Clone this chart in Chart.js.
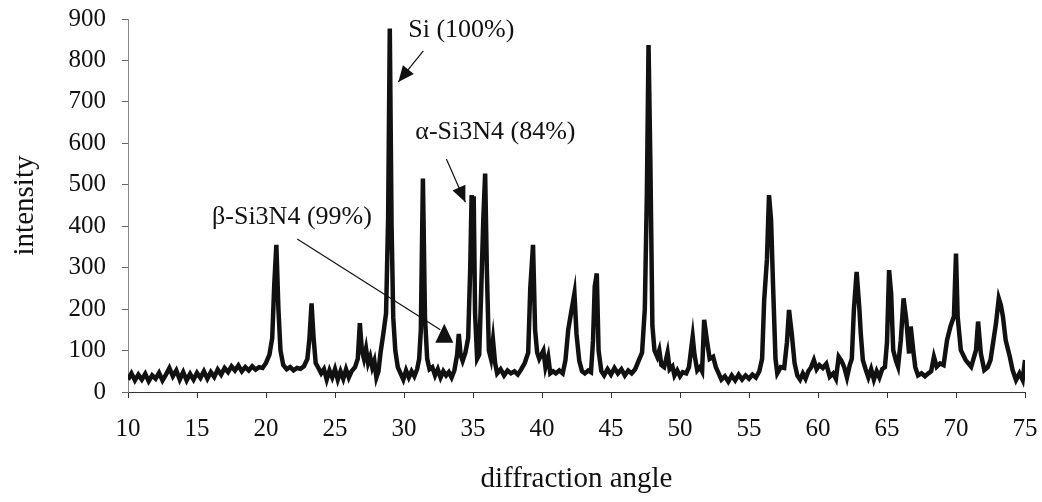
<!DOCTYPE html>
<html>
<head>
<meta charset="utf-8">
<title>XRD pattern</title>
<script src="https://cdn.jsdelivr.net/npm/chart.js@4.4.1/dist/chart.umd.min.js"></script>
<style>
  html, body { margin: 0; padding: 0; background: #fff; }
  #wrap { width: 1042px; height: 502px; }
</style>
</head>
<body>
<div id="wrap"><canvas id="xrdChart" width="1042" height="502"></canvas></div>
<script>
// diffraction angle (2-theta)
const angles = [
  10.0, 10.25, 10.5, 10.75, 11.0, 11.25, 11.5, 11.75, 12.0, 12.25, 12.5, 12.75,
  13.0, 13.25, 13.5, 13.75, 14.0, 14.25, 14.5, 14.75, 15.0, 15.25, 15.5, 15.75,
  16.0, 16.25, 16.5, 16.75, 17.0, 17.25, 17.5, 17.75, 18.0, 18.25, 18.5, 18.75,
  19.0, 19.25, 19.5, 19.75, 20.0, 20.25, 20.45, 20.6, 20.75, 20.9, 21.05, 21.25,
  21.5, 21.75, 22.0, 22.25, 22.5, 22.75, 23.0, 23.15, 23.3, 23.45, 23.6, 23.8,
  24.0, 24.2, 24.4, 24.6, 24.8, 25.0, 25.2, 25.4, 25.6, 25.8, 26.0, 26.2,
  26.45, 26.65, 26.8, 26.95, 27.1, 27.25, 27.4, 27.55, 27.7, 27.85, 28.0, 28.15,
  28.3, 28.5, 28.7, 28.85, 28.97, 29.1, 29.22, 29.37, 29.55, 29.75, 29.95, 30.15,
  30.35, 30.55, 30.75, 30.95, 31.1, 31.22, 31.37, 31.52, 31.68, 31.85, 32.05, 32.25,
  32.45, 32.65, 32.85, 33.05, 33.25, 33.45, 33.65, 33.85, 33.97, 34.1, 34.25, 34.45,
  34.65, 34.8, 34.9, 34.97, 35.05, 35.15, 35.3, 35.45, 35.6, 35.75, 35.88, 36.0,
  36.15, 36.3, 36.45, 36.6, 36.75, 37.0, 37.25, 37.5, 37.75, 38.0, 38.25, 38.5,
  38.75, 39.0, 39.15, 39.35, 39.5, 39.65, 39.8, 39.95, 40.1, 40.25, 40.45, 40.6,
  40.8, 41.0, 41.25, 41.5, 41.7, 41.9, 42.1, 42.35, 42.5, 42.7, 42.9, 43.1,
  43.35, 43.55, 43.7, 43.82, 43.97, 44.1, 44.3, 44.5, 44.75, 45.0, 45.25, 45.5,
  45.75, 46.0, 46.25, 46.5, 46.75, 47.0, 47.25, 47.45, 47.6, 47.72, 47.85, 48.0,
  48.15, 48.35, 48.5, 48.65, 48.85, 48.98, 49.1, 49.25, 49.45, 49.6, 49.8, 50.0,
  50.2, 50.45, 50.65, 50.8, 50.92, 51.05, 51.25, 51.45, 51.6, 51.75, 51.95, 52.15,
  52.4, 52.6, 52.8, 53.0, 53.25, 53.5, 53.75, 54.0, 54.25, 54.5, 54.75, 55.0,
  55.25, 55.5, 55.75, 55.95, 56.1, 56.3, 56.45, 56.6, 56.75, 56.92, 57.05, 57.3,
  57.55, 57.75, 57.9, 58.1, 58.3, 58.5, 58.7, 58.9, 59.1, 59.3, 59.5, 59.7,
  59.9, 60.1, 60.35, 60.6, 60.85, 61.1, 61.3, 61.5, 61.7, 61.9, 62.1, 62.3,
  62.45, 62.6, 62.8, 63.0, 63.1, 63.25, 63.45, 63.65, 63.85, 64.05, 64.25, 64.45,
  64.65, 64.85, 65.0, 65.15, 65.3, 65.45, 65.65, 65.8, 66.0, 66.2, 66.4, 66.6,
  66.72, 66.9, 67.05, 67.25, 67.5, 67.75, 68.0, 68.2, 68.4, 68.6, 68.85, 69.1,
  69.35, 69.6, 69.85, 70.0, 70.12, 70.35, 70.7, 71.1, 71.45, 71.6, 71.8, 72.05,
  72.3, 72.5, 72.9, 73.1, 73.25, 73.4, 73.6, 73.9, 74.1, 74.35, 74.6, 74.83,
  75.0
];

// counts at each angle
const intensity = [
  30, 45, 28, 42, 30, 44, 26, 40, 32, 46, 28, 42,
  58, 38, 52, 30, 48, 28, 44, 30, 46, 34, 50, 32,
  48, 36, 54, 42, 58, 48, 62, 52, 64, 50, 60, 52,
  62, 54, 60, 58, 70, 90, 130, 260, 355, 200, 100, 65,
  55, 60, 52, 58, 56, 62, 80, 130, 214, 130, 70, 58,
  45, 55, 30, 52, 35, 55, 30, 50, 32, 55, 35, 50,
  60, 80, 166, 100, 80, 105, 70, 85, 60, 75, 35, 50,
  95, 140, 190, 420, 877, 400, 180, 100, 60, 45, 30, 52,
  35, 50, 38, 55, 80, 150, 515, 180, 80, 55, 60, 40,
  55, 35, 50, 40, 48, 35, 52, 90, 140, 90, 75, 95,
  130, 300, 475, 420, 472, 190, 80, 90, 250, 420, 527, 300,
  100, 80, 125, 70, 45, 55, 40, 52, 45, 50, 42, 55,
  70, 95, 250, 355, 150, 95, 80, 90, 100, 60, 85, 45,
  50, 45, 52, 45, 77, 150, 190, 238, 140, 75, 50, 45,
  52, 48, 125, 254, 286, 100, 50, 40, 55, 42, 58, 45,
  55, 40, 52, 45, 55, 75, 95, 200, 480, 837, 560, 160,
  100, 85, 101, 65, 60, 77, 95, 55, 62, 40, 52, 38,
  48, 45, 60, 101, 133, 90, 52, 60, 50, 174, 125, 80,
  85, 60, 45, 30, 38, 25, 40, 28, 42, 30, 40, 32,
  42, 35, 50, 80, 222, 320, 475, 415, 250, 80, 45, 60,
  58, 120, 198, 140, 70, 40, 30, 45, 32, 50, 60, 77,
  55, 65, 58, 68, 37, 45, 32, 85, 75, 60, 35, 65,
  80, 198, 290, 200, 141, 77, 55, 35, 55, 30, 50, 35,
  55, 60, 120, 294, 238, 101, 75, 61, 125, 226, 174, 93,
  158, 101, 60, 40, 45, 38, 45, 50, 85, 61, 69, 65,
  125, 158, 182, 334, 182, 101, 77, 61, 101, 170, 93, 53,
  60, 77, 166, 226, 210, 182, 125, 85, 53, 29, 45, 29,
  77
];

const yTicks = [0, 100, 200, 300, 400, 500, 600, 700, 800, 900];
const xTicks = [10, 15, 20, 25, 30, 35, 40, 45, 50, 55, 60, 65, 70, 75];

// peak labels, anchored in data units (angle, intensity)
const peakNotes = [
  { text: 'Si (100%)',     at: [30.31, 873], from: [31.40, 823], to: [29.59, 748], head: 'arrow' },
  { text: 'α-Si3N4 (84%)', at: [30.82, 628], from: [33.07, 562], to: [34.45, 458], head: 'arrow' },
  { text: 'β-Si3N4 (99%)', at: [16.09, 422], from: [22.26, 369], to: [32.63, 150], head: 'triangle' }
];

const serif = "'Liberation Serif', 'Times New Roman', serif";

// arrows + labels drawn on top of the trace
const notesPlugin = {
  id: 'peakNotes',
  afterDatasetsDraw(chart) {
    const { ctx, scales: { x, y } } = chart;
    const px = p => [x.getPixelForValue(p[0]), y.getPixelForValue(p[1])];
    ctx.save();
    ctx.fillStyle = '#111';
    ctx.strokeStyle = '#111';
    ctx.font = '26px ' + serif;
    ctx.textBaseline = 'middle';
    ctx.textAlign = 'left';

    peakNotes.forEach(n => {
      const [tx, ty] = px(n.at);
      ctx.fillText(n.text, tx, ty);

      const [x1, y1] = px(n.from);
      const [x2, y2] = px(n.to);
      ctx.lineWidth = 1.2;
      ctx.beginPath();
      ctx.moveTo(x1, y1);
      ctx.lineTo(x2, y2);
      ctx.stroke();

      if (n.head === 'arrow') {
        const a = Math.atan2(y2 - y1, x2 - x1);
        const len = 16, half = 7;
        ctx.beginPath();
        ctx.moveTo(x2, y2);
        ctx.lineTo(x2 - len * Math.cos(a) + half * Math.sin(a), y2 - len * Math.sin(a) - half * Math.cos(a));
        ctx.lineTo(x2 - len * Math.cos(a) - half * Math.sin(a), y2 - len * Math.sin(a) + half * Math.cos(a));
        ctx.closePath();
        ctx.fill();
      } else {
        // upright filled triangle at the end of the line
        ctx.beginPath();
        ctx.moveTo(x2 + 4, y2 - 6);
        ctx.lineTo(x2 + 13, y2 + 13);
        ctx.lineTo(x2 - 5, y2 + 13);
        ctx.closePath();
        ctx.fill();
      }
    });
    ctx.restore();
  }
};

const points = angles.map((a, i) => ({ x: a, y: intensity[i] }));

new Chart(document.getElementById('xrdChart'), {
  type: 'line',
  data: {
    datasets: [{
      data: points,
      borderColor: '#111',
      borderWidth: 4.5,
      pointRadius: 0,
      tension: 0,
      fill: false
    }]
  },
  options: {
    responsive: false,
    animation: false,
    devicePixelRatio: 1,
    layout: { padding: { left: 0, right: 17, top: 19, bottom: 0 } },
    plugins: {
      legend: { display: false },
      tooltip: { enabled: false }
    },
    scales: {
      x: {
        type: 'linear',
        min: 10,
        max: 75,
        // fixed box; drop the label overhang so layout padding decides the edges
        afterFit: s => { s.height = 110; s.paddingLeft = 0; s.paddingRight = 0; },
        afterBuildTicks: s => { s.ticks = xTicks.map(v => ({ value: v })); },
        grid: { drawOnChartArea: false, drawTicks: true, tickLength: 6, color: '#333' },
        border: { display: true, color: '#333', width: 1 },
        ticks: { color: '#111', padding: 16, maxRotation: 0, font: { family: serif, size: 25 } },
        title: {
          display: true,
          text: 'diffraction angle',
          color: '#111',
          padding: { top: 0, bottom: 5 },
          font: { family: serif, size: 29 }
        }
      },
      y: {
        min: 0,
        max: 900,
        afterFit: s => { s.width = 128; s.paddingTop = 0; s.paddingBottom = 0; },
        afterBuildTicks: s => { s.ticks = yTicks.map(v => ({ value: v })); },
        grid: { drawOnChartArea: false, drawTicks: true, tickLength: 6, color: '#666' },
        border: { display: true, color: '#888', width: 1, dash: [2, 2] },
        ticks: { color: '#111', padding: 16, font: { family: serif, size: 25 } },
        title: {
          display: true,
          text: 'intensity',
          color: '#111',
          padding: { top: 8, bottom: 0 },
          font: { family: serif, size: 29 }
        }
      }
    }
  },
  plugins: [notesPlugin]
});
</script>
</body>
</html>
